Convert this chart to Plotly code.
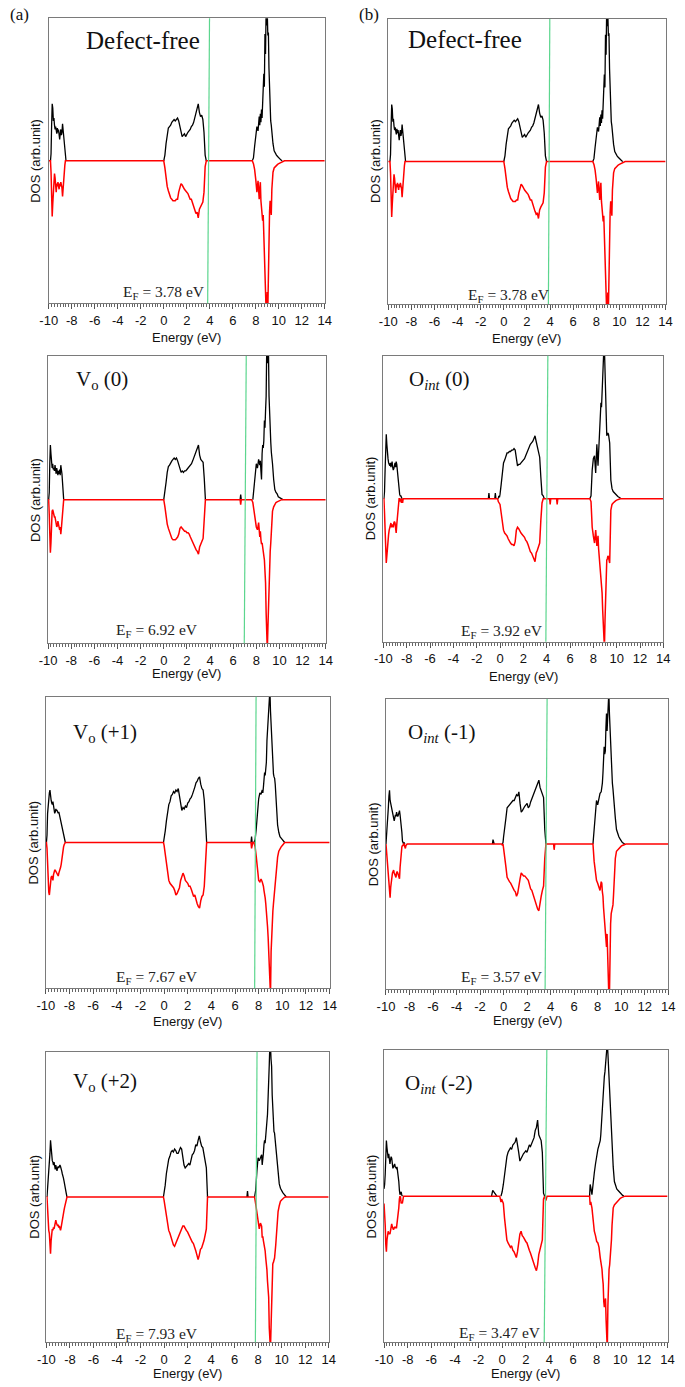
import plotly.graph_objects as go

# ---------------- data ----------------
ENERGY = [
    -10.0, -9.95, -9.9, -9.85, -9.8, -9.75, -9.7, -9.65, -9.6, -9.55,
    -9.5, -9.45, -9.4, -9.35, -9.3, -9.25, -9.2, -9.15, -9.1, -9.05,
    -9.0, -8.95, -8.9, -8.85, -8.8, -8.75, -8.7, -8.65, -8.6, -8.55,
    -8.5, -8.45, -8.4, -8.35, -8.3, -8.25, -8.2, -8.1,
    -1.0, -0.95, -0.9, -0.8, -0.45, -0.4, -0.35, -0.2, -0.15, -0.1,
    -0.05, 0.0, 0.1, 0.2, 0.3, 0.4, 0.5, 0.6, 0.7, 0.8,
    0.9, 1.0, 1.1, 1.2, 1.3, 1.4, 1.5, 1.6, 1.7, 1.8,
    1.9, 2.0, 2.1, 2.2, 2.3, 2.4, 2.5, 2.6, 2.7, 2.8,
    2.9, 3.0, 3.1, 3.2, 3.3, 3.4, 3.5, 3.6, 3.7, 3.8,
    3.9, 4.25, 4.3, 4.35, 4.85, 4.9, 4.95, 6.6, 6.65, 6.7,
    7.05, 7.1, 7.15, 7.35, 7.4, 7.45, 7.5, 7.6, 7.7, 7.8,
    7.9, 8.0, 8.1, 8.2, 8.3, 8.35, 8.4, 8.45, 8.5, 8.55,
    8.6, 8.65, 8.7, 8.75, 8.8, 8.85, 8.9, 8.95, 9.0, 9.05,
    9.1, 9.15, 9.2, 9.25, 9.3, 9.35, 9.4, 9.5, 9.6, 9.7,
    9.8, 9.9, 10.0, 10.1, 10.2, 10.3, 10.4, 10.5, 14.0,
]

# Defect-free (spin up / spin down)
DF_UP = [
    0, 0, 0, 0, 0.05, 0.25, 0.40, 0.37, 0.28, 0.30,
    0.25, 0.22, 0.24, 0.21, 0.19, 0.23, 0.20, 0.22, 0.17, 0.15,
    0.19, 0.22, 0.18, 0.20, 0.26, 0.22, 0.17, 0.10, 0.06, 0.02,
    0, 0, 0, 0, 0, 0, 0, 0,
    0, 0, 0, 0, 0, 0, 0, 0, 0, 0,
    0, 0, 0.04, 0.12, 0.20, 0.23, 0.24, 0.25, 0.27, 0.28,
    0.29, 0.28, 0.29, 0.30, 0.28, 0.24, 0.19, 0.17, 0.18, 0.19,
    0.17, 0.19, 0.20, 0.21, 0.22, 0.24, 0.25, 0.27, 0.30, 0.33,
    0.36, 0.40, 0.34, 0.31, 0.32, 0.29, 0.20, 0.04, 0, 0,
    0, 0, 0, 0, 0, 0, 0, 0, 0, 0,
    0, 0, 0, 0, 0, 0, 0, 0, 0, 0.02,
    0.10, 0.19, 0.24, 0.21, 0.31, 0.25, 0.33, 0.27, 0.36, 0.30,
    0.44, 0.40, 0.61, 0.52, 0.89, 0.75, 1.05, 0.95, 1.05, 0.88,
    0.90, 0.65, 0.45, 0.33, 0.28, 0.25, 0.20, 0.12, 0.07, 0.05,
    0.04, 0.03, 0.02, 0.01, 0.005, 0, 0, 0, 0,
]
DF_DN = [
    0, 0, 0, 0, -0.08, -0.30, -0.39, -0.30, -0.18, -0.10,
    -0.09, -0.12, -0.17, -0.22, -0.16, -0.18, -0.15, -0.17, -0.20, -0.16,
    -0.18, -0.15, -0.17, -0.19, -0.25, -0.18, -0.12, -0.06, -0.03, 0,
    0, 0, 0, 0, 0, 0, 0, 0,
    0, 0, 0, 0, 0, 0, 0, 0, 0, 0,
    0, 0, -0.05, -0.12, -0.18, -0.21, -0.24, -0.26, -0.27, -0.28,
    -0.28, -0.28, -0.27, -0.27, -0.22, -0.18, -0.16, -0.17, -0.19, -0.20,
    -0.21, -0.22, -0.23, -0.25, -0.27, -0.27, -0.30, -0.33, -0.35, -0.37,
    -0.36, -0.40, -0.34, -0.32, -0.30, -0.29, -0.22, -0.04, 0, 0,
    0, 0, 0, 0, 0, 0, 0, 0, 0, 0,
    0, 0, 0, 0, 0, 0, 0, 0, 0, -0.02,
    -0.06, -0.13, -0.22, -0.14, -0.27, -0.20, -0.15, -0.28, -0.34, -0.40,
    -0.42, -0.38, -0.55, -0.60, -0.70, -0.85, -1.05, -1.05, -0.92, -1.05,
    -0.72, -0.50, -0.36, -0.28, -0.32, -0.38, -0.20, -0.08, -0.05, -0.04,
    -0.03, -0.025, -0.02, -0.015, -0.01, -0.005, 0, 0, 0,
]

# V_o (0)
VO0_UP = [
    0, 0, 0.05, 0.25, 0.38, 0.32, 0.26, 0.22, 0.25, 0.21,
    0.22, 0.20, 0.24, 0.21, 0.18, 0.22, 0.19, 0.17, 0.20, 0.18,
    0.21, 0.17, 0.24, 0.22, 0.18, 0.12, 0.06, 0, 0, 0,
    0, 0, 0, 0, 0, 0, 0, 0,
    0, 0, 0, 0, 0, 0, 0, 0, 0, 0,
    0, 0, 0.05, 0.12, 0.19, 0.23, 0.24, 0.26, 0.27, 0.28,
    0.29, 0.28, 0.29, 0.27, 0.24, 0.21, 0.19, 0.20, 0.19, 0.20,
    0.20, 0.21, 0.22, 0.23, 0.24, 0.25, 0.27, 0.29, 0.32, 0.34,
    0.36, 0.38, 0.31, 0.28, 0.27, 0.26, 0.15, 0, 0, 0,
    0, 0, 0, 0, 0, 0, 0, 0, 0.035, 0,
    0, 0, 0, 0, 0, 0, 0, 0, 0, 0.07,
    0.16, 0.25, 0.22, 0.28, 0.24, 0.27, 0.20, 0.14, 0.32, 0.38,
    0.36, 0.41, 0.55, 0.50, 0.62, 0.72, 1.05, 1.05, 0.95, 1.05,
    0.72, 0.55, 0.44, 0.40, 0.33, 0.30, 0.25, 0.14, 0.07, 0.05,
    0.04, 0.02, 0.015, 0.01, 0.005, 0, 0, 0, 0,
]
VO0_DN = [
    0, 0, -0.10, -0.28, -0.37, -0.30, -0.15, -0.08, -0.07, -0.09,
    -0.10, -0.12, -0.12, -0.14, -0.17, -0.19, -0.18, -0.15, -0.17, -0.20,
    -0.21, -0.19, -0.24, -0.20, -0.15, -0.08, -0.03, 0, 0, 0,
    0, 0, 0, 0, 0, 0, 0, 0,
    0, 0, 0, 0, 0, 0, 0, 0, 0, 0,
    0, 0, -0.05, -0.12, -0.17, -0.20, -0.23, -0.25, -0.27, -0.28,
    -0.28, -0.28, -0.27, -0.26, -0.24, -0.20, -0.19, -0.20, -0.21, -0.22,
    -0.22, -0.23, -0.23, -0.24, -0.26, -0.28, -0.30, -0.32, -0.33, -0.35,
    -0.36, -0.38, -0.33, -0.30, -0.29, -0.27, -0.16, 0, 0, 0,
    0, 0, 0, 0, 0, 0, 0, 0, -0.035, 0,
    0, 0, 0, 0, 0, 0, 0, 0, -0.02, -0.08,
    -0.14, -0.19, -0.21, -0.16, -0.26, -0.22, -0.28, -0.31, -0.30, -0.33,
    -0.36, -0.38, -0.42, -0.50, -0.58, -0.79, -1.05, -1.05, -0.90, -0.74,
    -0.55, -0.42, -0.36, -0.30, -0.24, -0.15, -0.08, -0.05, -0.03, -0.02,
    -0.015, -0.01, -0.005, 0, 0, 0, 0, 0, 0,
]

# V_o (+1)
VO1_UP = [
    0, 0, 0.05, 0.20, 0.28, 0.30, 0.34, 0.36, 0.30, 0.29,
    0.27, 0.26, 0.28, 0.25, 0.22, 0.20, 0.21, 0.23, 0.22, 0.22,
    0.21, 0.20, 0.21, 0.19, 0.18, 0.15, 0.12, 0.10, 0.08, 0.06,
    0.04, 0.02, 0.01, 0, 0, 0, 0, 0,
    0, 0, 0, 0, 0, 0, 0, 0, 0, 0,
    0, 0.02, 0.08, 0.15, 0.22, 0.26, 0.28, 0.32, 0.33, 0.35,
    0.34, 0.36, 0.35, 0.37, 0.32, 0.26, 0.22, 0.24, 0.23, 0.25,
    0.24, 0.27, 0.28, 0.30, 0.31, 0.33, 0.35, 0.38, 0.41, 0.42,
    0.44, 0.45, 0.40, 0.37, 0.36, 0.29, 0.15, 0, 0, 0,
    0, 0, 0, 0, 0, 0, 0, 0, 0, 0,
    0, 0, 0, 0, 0.04, 0, 0, 0, 0.02, 0.10,
    0.22, 0.30, 0.34, 0.33, 0.36, 0.34, 0.38, 0.45, 0.48, 0.46,
    0.50, 0.55, 0.70, 0.80, 0.90, 0.96, 1.05, 1.05, 0.90, 0.80,
    0.70, 0.62, 0.52, 0.47, 0.45, 0.44, 0.40, 0.24, 0.12, 0.07,
    0.04, 0.03, 0.02, 0.01, 0, 0, 0, 0, 0,
]
VO1_DN = [
    0, 0, -0.04, -0.15, -0.28, -0.34, -0.36, -0.30, -0.26, -0.24,
    -0.23, -0.25, -0.26, -0.22, -0.20, -0.19, -0.19, -0.20, -0.21, -0.21,
    -0.22, -0.23, -0.21, -0.20, -0.18, -0.17, -0.15, -0.11, -0.08, -0.05,
    -0.03, -0.015, -0.005, 0, 0, 0, 0, 0,
    0, 0, 0, 0, 0, 0, 0, 0, 0, 0,
    0, -0.02, -0.08, -0.15, -0.22, -0.26, -0.28, -0.29, -0.30, -0.31,
    -0.33, -0.36, -0.35, -0.33, -0.31, -0.26, -0.23, -0.21, -0.23, -0.26,
    -0.27, -0.28, -0.30, -0.30, -0.32, -0.34, -0.37, -0.36, -0.40, -0.42,
    -0.44, -0.45, -0.40, -0.37, -0.36, -0.30, -0.15, 0, 0, 0,
    0, 0, 0, 0, 0, 0, 0, 0, 0, 0,
    0, 0, 0, 0, -0.04, 0, 0, 0, -0.03, -0.10,
    -0.20, -0.26, -0.27, -0.25, -0.27, -0.28, -0.30, -0.33, -0.35, -0.38,
    -0.42, -0.46, -0.52, -0.58, -0.65, -0.78, -0.94, -1.05, -1.05, -0.75,
    -0.62, -0.52, -0.47, -0.42, -0.37, -0.32, -0.25, -0.16, -0.10, -0.06,
    -0.04, -0.03, -0.02, -0.01, 0, 0, 0, 0, 0,
]

# V_o (+2)
VO2_UP = [
    0, 0, 0.05, 0.15, 0.20, 0.22, 0.30, 0.39, 0.33, 0.27,
    0.25, 0.24, 0.22, 0.24, 0.21, 0.19, 0.22, 0.20, 0.18, 0.20,
    0.21, 0.20, 0.21, 0.22, 0.21, 0.20, 0.18, 0.16, 0.15, 0.13,
    0.11, 0.08, 0.06, 0.04, 0.02, 0, 0, 0,
    0, 0, 0, 0, 0, 0, 0, 0, 0, 0,
    0, 0.02, 0.08, 0.16, 0.23, 0.26, 0.28, 0.31, 0.32, 0.31,
    0.33, 0.32, 0.30, 0.30, 0.32, 0.34, 0.33, 0.27, 0.22, 0.20,
    0.21, 0.22, 0.23, 0.22, 0.26, 0.29, 0.30, 0.32, 0.36, 0.35,
    0.39, 0.42, 0.38, 0.35, 0.34, 0.30, 0.25, 0.20, 0, 0,
    0, 0, 0, 0, 0, 0, 0, 0, 0, 0,
    0, 0.04, 0, 0, 0, 0, 0, 0, 0, 0.05,
    0.18, 0.27, 0.25, 0.27, 0.29, 0.22, 0.25, 0.30, 0.36, 0.39,
    0.37, 0.45, 0.43, 0.52, 0.57, 0.65, 0.80, 0.91, 1.05, 1.05,
    0.95, 0.90, 0.70, 0.60, 0.47, 0.45, 0.44, 0.35, 0.22, 0.14,
    0.09, 0.06, 0.04, 0.03, 0.02, 0.01, 0, 0, 0,
]
VO2_DN = [
    0, 0, -0.08, -0.20, -0.23, -0.25, -0.30, -0.39, -0.30, -0.23,
    -0.22, -0.23, -0.21, -0.22, -0.20, -0.17, -0.16, -0.18, -0.19, -0.20,
    -0.19, -0.21, -0.20, -0.22, -0.23, -0.21, -0.18, -0.15, -0.13, -0.11,
    -0.09, -0.07, -0.05, -0.03, -0.01, 0, 0, 0,
    0, 0, 0, 0, 0, 0, 0, 0, 0, 0,
    0, -0.02, -0.07, -0.15, -0.20, -0.23, -0.25, -0.28, -0.30, -0.33,
    -0.34, -0.32, -0.29, -0.27, -0.25, -0.23, -0.21, -0.20, -0.20, -0.22,
    -0.23, -0.24, -0.26, -0.28, -0.29, -0.31, -0.32, -0.34, -0.37, -0.40,
    -0.43, -0.40, -0.36, -0.35, -0.33, -0.30, -0.26, -0.22, 0, 0,
    0, 0, 0, 0, 0, 0, 0, 0, 0, 0,
    0, 0, 0, 0, 0, 0, 0, 0, 0, -0.05,
    -0.12, -0.19, -0.22, -0.18, -0.20, -0.28, -0.27, -0.30, -0.32, -0.33,
    -0.37, -0.42, -0.45, -0.50, -0.58, -0.64, -0.69, -0.90, -1.05, -1.05,
    -0.90, -0.74, -0.55, -0.46, -0.45, -0.44, -0.42, -0.33, -0.20, -0.10,
    -0.06, -0.03, -0.02, -0.01, -0.005, 0, 0, 0, 0,
]

# O_int (0)
OI0_UP = [
    0, 0, 0.05, 0.20, 0.35, 0.45, 0.38, 0.30, 0.28, 0.25,
    0.24, 0.23, 0.25, 0.22, 0.24, 0.26, 0.22, 0.20, 0.21, 0.23,
    0.25, 0.22, 0.26, 0.24, 0.20, 0.15, 0.08, 0.04, 0.03, 0.02,
    0.02, 0.01, 0, 0, 0, 0, 0, 0,
    0, 0.04, 0, 0, 0, 0.04, 0, 0, 0, 0.02,
    0.01, 0.03, 0.10, 0.20, 0.25, 0.27, 0.30, 0.32, 0.32, 0.33,
    0.33, 0.34, 0.34, 0.35, 0.34, 0.26, 0.23, 0.24, 0.24, 0.25,
    0.26, 0.27, 0.28, 0.30, 0.32, 0.34, 0.37, 0.38, 0.39, 0.40,
    0.42, 0.44, 0.40, 0.37, 0.33, 0.29, 0.15, 0.03, 0.02, 0,
    0, 0, 0, 0, 0, 0, 0, 0, 0, 0,
    0, 0, 0, 0, 0, 0, 0, 0, 0, 0.02,
    0.20, 0.28, 0.30, 0.18, 0.38, 0.30, 0.23, 0.32, 0.40, 0.41,
    0.55, 0.67, 0.64, 0.78, 0.85, 1.05, 1.05, 1.05, 0.90, 0.76,
    0.60, 0.44, 0.45, 0.46, 0.45, 0.42, 0.39, 0.13, 0.07, 0.05,
    0.04, 0.03, 0.02, 0.015, 0.01, 0.005, 0, 0, 0,
]
OI0_DN = [
    0, 0, -0.10, -0.30, -0.42, -0.45, -0.40, -0.33, -0.30, -0.25,
    -0.22, -0.20, -0.18, -0.17, -0.20, -0.18, -0.19, -0.20, -0.17, -0.16,
    -0.17, -0.20, -0.24, -0.18, -0.12, -0.06, -0.02, 0, 0, -0.02,
    0, -0.03, 0, -0.03, 0, 0, 0, 0,
    0, 0, 0, 0, 0, 0, 0, 0, -0.02, -0.03,
    -0.03, -0.04, -0.10, -0.18, -0.22, -0.24, -0.25, -0.26, -0.28, -0.30,
    -0.31, -0.32, -0.32, -0.33, -0.30, -0.22, -0.20, -0.21, -0.23, -0.24,
    -0.25, -0.26, -0.27, -0.29, -0.30, -0.32, -0.35, -0.37, -0.38, -0.41,
    -0.42, -0.44, -0.38, -0.36, -0.33, -0.31, -0.15, -0.03, 0, 0,
    0, 0, -0.04, 0, 0, -0.04, 0, 0, 0, 0,
    0, 0, 0, 0, 0, 0, 0, 0, 0, -0.02,
    -0.20, -0.26, -0.31, -0.22, -0.33, -0.30, -0.26, -0.35, -0.40, -0.45,
    -0.50, -0.55, -0.57, -0.66, -0.78, -0.92, -1.05, -1.05, -0.85, -0.68,
    -0.52, -0.43, -0.42, -0.40, -0.41, -0.44, -0.45, -0.08, -0.04, -0.03,
    -0.02, -0.015, -0.01, -0.005, 0, 0, 0, 0, 0,
]

# O_int (-1)
OI1_UP = [
    0, 0.05, 0.12, 0.20, 0.25, 0.33, 0.37, 0.30, 0.28, 0.26,
    0.22, 0.21, 0.20, 0.17, 0.16, 0.18, 0.20, 0.19, 0.22, 0.20,
    0.19, 0.20, 0.22, 0.23, 0.20, 0.17, 0.14, 0.08, 0.02, 0,
    0, 0.01, 0, 0, 0, 0, 0, 0,
    0, 0, 0.03, 0, 0, 0, 0, 0, 0, 0,
    0.01, 0.05, 0.10, 0.18, 0.25, 0.26, 0.27, 0.28, 0.29, 0.30,
    0.30, 0.32, 0.34, 0.33, 0.36, 0.28, 0.22, 0.23, 0.25, 0.26,
    0.27, 0.28, 0.25, 0.26, 0.29, 0.31, 0.34, 0.36, 0.38, 0.40,
    0.42, 0.44, 0.39, 0.36, 0.34, 0.32, 0.10, 0, 0, 0,
    0, 0, 0, 0, 0, 0, 0, 0, 0, 0,
    0, 0, 0, 0, 0, 0, 0, 0, 0.12, 0.22,
    0.30, 0.27, 0.30, 0.35, 0.36, 0.38, 0.42, 0.49, 0.55, 0.67,
    0.62, 0.64, 0.80, 0.90, 0.78, 0.95, 1.05, 1.05, 0.90, 0.78,
    0.65, 0.56, 0.48, 0.42, 0.38, 0.32, 0.27, 0.18, 0.10, 0.07,
    0.05, 0.035, 0.02, 0.01, 0.005, 0, 0, 0, 0,
]
OI1_DN = [
    0, -0.05, -0.10, -0.16, -0.25, -0.30, -0.35, -0.37, -0.30, -0.25,
    -0.22, -0.20, -0.19, -0.18, -0.20, -0.21, -0.22, -0.23, -0.20, -0.19,
    -0.20, -0.21, -0.22, -0.24, -0.16, -0.08, -0.04, -0.02, -0.01, -0.01,
    0, 0, -0.02, -0.03, -0.01, 0, 0, 0,
    0, 0, 0, 0, 0, 0, 0, 0, 0, -0.01,
    0, -0.03, -0.08, -0.16, -0.23, -0.25, -0.26, -0.27, -0.29, -0.31,
    -0.32, -0.33, -0.36, -0.34, -0.27, -0.24, -0.20, -0.21, -0.22, -0.22,
    -0.23, -0.24, -0.25, -0.28, -0.31, -0.32, -0.35, -0.38, -0.40, -0.43,
    -0.45, -0.46, -0.40, -0.36, -0.32, -0.29, -0.10, 0, 0, 0,
    0, 0, -0.04, 0, 0, 0, 0, 0, 0, 0,
    0, 0, 0, 0, 0, 0, 0, 0, -0.12, -0.21,
    -0.25, -0.27, -0.30, -0.32, -0.26, -0.27, -0.33, -0.36, -0.44, -0.50,
    -0.52, -0.60, -0.68, -0.71, -0.62, -0.80, -0.94, -1.05, -1.05, -0.70,
    -0.55, -0.48, -0.46, -0.44, -0.42, -0.35, -0.26, -0.10, -0.05, -0.04,
    -0.03, -0.02, -0.015, -0.01, -0.005, 0, 0, 0, 0,
]

# O_int (-2)
OI2_UP = [
    0.05, 0.08, 0.15, 0.30, 0.38, 0.33, 0.30, 0.26, 0.29, 0.25,
    0.22, 0.25, 0.27, 0.26, 0.22, 0.19, 0.20, 0.22, 0.22, 0.20,
    0.19, 0.19, 0.20, 0.17, 0.15, 0.10, 0.04, 0.01, 0.02, 0.03,
    0.01, 0, 0, 0, 0, 0, 0, 0,
    0, 0, 0, 0.04, 0, 0, 0, 0, 0, 0,
    0.01, 0.03, 0.08, 0.16, 0.23, 0.27, 0.30, 0.32, 0.33, 0.32,
    0.35, 0.36, 0.37, 0.40, 0.36, 0.30, 0.24, 0.26, 0.28, 0.29,
    0.30, 0.31, 0.30, 0.33, 0.35, 0.34, 0.36, 0.37, 0.40, 0.45,
    0.47, 0.52, 0.42, 0.40, 0.38, 0.30, 0.02, 0, 0, 0,
    0, 0, 0, 0, 0, 0, 0, 0, 0, 0,
    0, 0, 0, 0, 0, 0.08, 0.06, 0.01, 0.10, 0.16,
    0.22, 0.28, 0.32, 0.35, 0.38, 0.42, 0.50, 0.60, 0.62, 0.75,
    0.79, 0.82, 0.85, 0.90, 0.95, 1.05, 1.05, 0.98, 0.88, 0.78,
    0.68, 0.60, 0.52, 0.45, 0.36, 0.28, 0.20, 0.10, 0.07, 0.05,
    0.04, 0.03, 0.02, 0.01, 0.005, 0, 0, 0, 0,
]
OI2_DN = [
    -0.05, -0.10, -0.20, -0.33, -0.38, -0.30, -0.25, -0.24, -0.26, -0.25,
    -0.26, -0.22, -0.20, -0.19, -0.21, -0.22, -0.23, -0.22, -0.21, -0.22,
    -0.21, -0.22, -0.19, -0.17, -0.14, -0.08, -0.02, 0, -0.01, -0.05,
    -0.04, -0.05, 0, 0, 0, 0, 0, 0,
    0, 0, 0, 0, 0, 0, 0, 0, -0.02, -0.04,
    -0.02, -0.03, -0.05, -0.15, -0.25, -0.30, -0.32, -0.34, -0.35, -0.34,
    -0.37, -0.38, -0.40, -0.42, -0.38, -0.32, -0.26, -0.24, -0.27, -0.28,
    -0.30, -0.31, -0.32, -0.35, -0.37, -0.39, -0.42, -0.45, -0.47, -0.49,
    -0.51, -0.47, -0.40, -0.36, -0.33, -0.30, -0.02, 0, -0.03, 0,
    0, 0, 0, 0, 0, 0, 0, 0, 0, 0,
    0, 0, 0, 0, 0, -0.06, -0.04, -0.08, -0.18, -0.24,
    -0.27, -0.31, -0.32, -0.35, -0.42, -0.44, -0.47, -0.50, -0.56, -0.60,
    -0.72, -0.76, -0.72, -0.70, -0.85, -1.05, -1.05, -0.75, -0.55, -0.50,
    -0.47, -0.42, -0.37, -0.30, -0.20, -0.10, -0.08, -0.06, -0.05, -0.04,
    -0.03, -0.02, -0.015, -0.01, -0.005, 0, 0, 0, 0,
]

PANEL_TITLES = ["Defect-free", "Defect-free",
                "V<sub>o</sub> (0)", "O<sub><i>int</i></sub> (0)",
                "V<sub>o</sub> (+1)", "O<sub><i>int</i></sub> (-1)",
                "V<sub>o</sub> (+2)", "O<sub><i>int</i></sub> (-2)"]
FERMI_LABELS = ["3.78", "3.78", "6.92", "3.92", "7.67", "3.57", "7.93", "3.47"]
FERMI_LINE_BOTTOM = [3.82, 3.86, 6.96, 3.93, 7.66, 3.53, 7.77, 3.56]
FERMI_LINE_TOP = [3.98, 3.98, 7.13, 4.10, 7.78, 3.70, 7.91, 3.78]
TICK_VALUES = [-10, -8, -6, -4, -2, 0, 2, 4, 6, 8, 10, 12, 14]
TICK_LABELS = ["-10", "-8", "-6", "-4", "-2", "0", "2", "4", "6", "8", "10", "12", "14"]
COLUMN_LABELS = ["(a)", "(b)"]

PANEL_UP = [DF_UP, DF_UP, VO0_UP, OI0_UP, VO1_UP, OI1_UP, VO2_UP, OI2_UP]
PANEL_DN = [DF_DN, DF_DN, VO0_DN, OI0_DN, VO1_DN, OI1_DN, VO2_DN, OI2_DN]
for arr in PANEL_UP + PANEL_DN:
    assert len(arr) == len(ENERGY), len(arr)


def hide_flat_zeros(values):
    """Spin-up line is hidden where it runs flat along zero (the spin-down line covers it)."""
    out = []
    n = len(values)
    for k, v in enumerate(values):
        left = values[k - 1] if k > 0 else 0
        right = values[k + 1] if k < n - 1 else 0
        out.append(None if (v == 0 and left == 0 and right == 0) else v)
    return out


# ---------------- layout (pixel geometry) ----------------
W, H = 685, 1387
# x0, x1, y0(top), y1(bottom) in pixels
BOXES = [
    (40.7, 323.3, 18.3, 303.3), (388.3, 672.3, 19.0, 304.0),
    (40.0, 324.3, 356.0, 643.3), (383.3, 670.0, 355.7, 641.7),
    (37.7, 328.3, 696.7, 988.3), (386.0, 675.0, 699.0, 989.0),
    (38.3, 327.3, 1051.7, 1342.3), (384.0, 674.3, 1050.0, 1342.3),
]
# centre of each panel title, in pixels
TITLE_POS = [(137, 40), (467, 39), (95, 380), (440.5, 380),
             (98, 733), (443, 733), (98, 1082), (440, 1084)]
TITLE_SIZE = [25, 25, 21, 21, 21, 21, 21, 21]
EF_POS = [(115, 293), (468, 295), (107, 630), (460.7, 631.7),
          (107, 977), (460.7, 977), (108, 1334), (459, 1333)]
XTITLE_OFF = [34, 34, 30, 35, 33, 31, 31, 31]

SERIF = "Liberation Serif, Times New Roman, serif"
SANS = "Liberation Sans, Arial, sans-serif"
GREEN = "#5cd68e"
FRAME = "#7a7a7a"


def px(x):
    return x / W


def py(y):
    return 1 - y / H


fig = go.Figure()
layout = {}
annotations = []
shapes = []

for i in range(8):
    suf = "" if i == 0 else str(i + 1)
    x0, x1, y0, y1 = BOXES[i]
    fig.add_trace(go.Scatter(x=ENERGY, y=hide_flat_zeros(PANEL_UP[i]), mode="lines",
                             line=dict(color="#000000", width=1.3),
                             connectgaps=False,
                             xaxis="x" + suf, yaxis="y" + suf,
                             showlegend=False, hoverinfo="skip"))
    fig.add_trace(go.Scatter(x=ENERGY, y=PANEL_DN[i], mode="lines",
                             line=dict(color="#ff0000", width=1.5),
                             xaxis="x" + suf, yaxis="y" + suf,
                             showlegend=False, hoverinfo="skip"))
    shapes.append(dict(type="line", xref="x" + suf, yref="y" + suf + " domain",
                       x0=FERMI_LINE_BOTTOM[i], x1=FERMI_LINE_TOP[i], y0=0, y1=1,
                       line=dict(color=GREEN, width=1.2)))
    layout["xaxis" + suf] = dict(
        domain=[px(x0), px(x1)], anchor="y" + suf, range=[-10, 14],
        tickmode="array", tickvals=TICK_VALUES, ticktext=TICK_LABELS,
        ticks="outside", ticklen=5, tickwidth=1, tickcolor="#555555",
        minor=dict(tickmode="linear", tick0=-10, dtick=0.25, ticks="outside",
                   ticklen=3, tickwidth=1, tickcolor="#666666", showgrid=False),
        showline=True, mirror=True, linecolor=FRAME, linewidth=1,
        showgrid=False, zeroline=False,
        tickfont=dict(family=SANS, size=13, color="#111111"),
        fixedrange=True,
    )
    layout["yaxis" + suf] = dict(
        domain=[py(y1), py(y0)], anchor="x" + suf, range=[-1, 1],
        showticklabels=False, ticks="", showline=True, mirror=True,
        linecolor=FRAME, linewidth=1, showgrid=False, zeroline=False,
        fixedrange=True,
    )
    tx, ty = TITLE_POS[i]
    annotations.append(dict(text=PANEL_TITLES[i], x=px(tx), y=py(ty),
                            xref="paper", yref="paper", xanchor="center", yanchor="middle",
                            showarrow=False,
                            font=dict(family=SERIF, size=TITLE_SIZE[i], color="#111111")))
    ex, ey = EF_POS[i]
    annotations.append(dict(text="E<sub>F</sub> = " + FERMI_LABELS[i] + " eV",
                            x=px(ex), y=py(ey), xref="paper", yref="paper",
                            xanchor="left", yanchor="middle", showarrow=False,
                            font=dict(family=SERIF, size=15.5, color="#222222")))
    annotations.append(dict(text="Energy (eV)", x=px((x0 + x1) / 2), y=py(y1 + XTITLE_OFF[i]),
                            xref="paper", yref="paper", xanchor="center", yanchor="middle",
                            showarrow=False, font=dict(family=SANS, size=13, color="#111111")))
    annotations.append(dict(text="DOS (arb.unit)", x=px(x0 - 13), y=py((y0 + y1) / 2),
                            xref="paper", yref="paper", xanchor="center", yanchor="middle",
                            textangle=-90, showarrow=False,
                            font=dict(family=SANS, size=13, color="#111111")))

annotations.append(dict(text=COLUMN_LABELS[0], x=px(11), y=py(14), xref="paper", yref="paper",
                        xanchor="center", yanchor="middle", showarrow=False,
                        font=dict(family=SERIF, size=17, color="#111111")))
annotations.append(dict(text=COLUMN_LABELS[1], x=px(369), y=py(14), xref="paper", yref="paper",
                        xanchor="center", yanchor="middle", showarrow=False,
                        font=dict(family=SERIF, size=17, color="#111111")))

fig.update_layout(**layout)
fig.update_layout(width=W, height=H, margin=dict(l=0, r=0, t=0, b=0),
                  paper_bgcolor="white", plot_bgcolor="white",
                  annotations=annotations, shapes=shapes, showlegend=False)

fig.write_html("out.html", config={"displayModeBar": False},
               post_script="document.body.style.margin='0';")
